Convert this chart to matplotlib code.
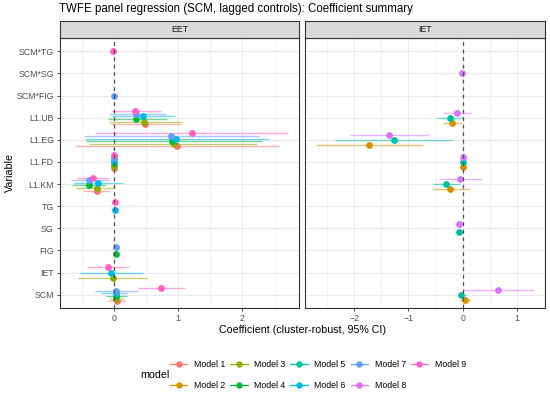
import matplotlib
matplotlib.use("Agg")
import matplotlib.pyplot as plt
from matplotlib.lines import Line2D
from matplotlib.ticker import MultipleLocator
import numpy as np

plt.rcParams['font.family'] = ['Liberation Sans', 'DejaVu Sans']

# ---- data -------------------------------------------------------------
# variable order, bottom -> top
variables = ["SCM", "IET", "FIG", "SG", "TG", "L1.KM", "L1.FD", "L1.EG",
             "L1.UB", "SCM*FIG", "SCM*SG", "SCM*TG"]
panels = ["EET", "IET"]
model_names = [f"Model {i}" for i in range(1, 10)]
model_panel = ["EET", "IET", "EET", "EET", "IET", "EET", "EET", "IET", "EET"]
model_colors = ["#F8766D", "#D39200", "#93AA00", "#00BA38", "#00C19F",
                "#00B9E3", "#619CFF", "#DB72FB", "#FF61C3"]

m1_terms = ["L1.UB", "L1.EG", "L1.FD", "L1.KM", "SCM"]
m1_est = [0.49, 0.98, 0.00, -0.27, 0.04]
m1_lo = [-0.04, -0.61, -0.01, -0.48, -0.09]
m1_hi = [1.05, 2.57, 0.01, -0.06, 0.17]

m2_terms = ["L1.UB", "L1.EG", "L1.FD", "L1.KM", "SCM"]
m2_est = [-0.19, -1.73, 0.01, -0.23, 0.04]
m2_lo = [-0.37, -2.71, 0.00, -0.56, -0.07]
m2_hi = [-0.01, -0.73, 0.02, 0.13, 0.15]

m3_terms = ["L1.UB", "L1.EG", "L1.FD", "L1.KM", "IET", "SCM"]
m3_est = [0.47, 0.93, 0.00, -0.27, -0.02, 0.035]
m3_lo = [-0.08, -0.39, -0.01, -0.59, -0.56, -0.08]
m3_hi = [1.06, 2.23, 0.01, 0.01, 0.52, 0.16]

m4_terms = ["L1.UB", "L1.EG", "L1.FD", "L1.KM", "FIG", "SCM"]
m4_est = [0.34, 0.90, 0.00, -0.39, 0.035, 0.035]
m4_lo = [-0.10, -0.43, -0.01, -0.66, 0.02, -0.12]
m4_hi = [0.82, 2.30, 0.01, -0.12, 0.05, 0.20]

m5_terms = ["L1.UB", "L1.EG", "L1.FD", "L1.KM", "SG", "SCM"]
m5_est = [-0.24, -1.27, 0.01, -0.31, -0.06, -0.03]
m5_lo = [-0.48, -2.35, 0.00, -0.54, -0.07, -0.09]
m5_hi = [0.01, -0.18, 0.02, -0.04, -0.05, 0.07]

m6_terms = ["L1.UB", "L1.EG", "L1.FD", "L1.KM", "TG", "IET", "SCM"]
m6_est = [0.45, 0.97, 0.00, -0.25, 0.01, -0.04, 0.035]
m6_lo = [-0.03, -0.45, -0.01, -0.62, 0.00, -0.53, -0.20]
m6_hi = [0.95, 2.41, 0.01, 0.14, 0.02, 0.45, 0.20]

m7_terms = ["SCM*FIG", "L1.UB", "L1.EG", "L1.FD", "L1.KM", "FIG", "SCM"]
m7_est = [0.00, 0.34, 0.89, 0.00, -0.39, 0.035, 0.035]
m7_lo = [-0.01, -0.07, -0.46, -0.01, -0.67, 0.02, -0.30]
m7_hi = [0.01, 0.81, 2.25, 0.01, -0.08, 0.05, 0.37]

m8_terms = ["SCM*SG", "L1.UB", "L1.EG", "L1.FD", "L1.KM", "SG", "SCM"]
m8_est = [-0.01, -0.10, -1.36, 0.01, -0.05, -0.06, 0.66]
m8_lo = [-0.02, -0.37, -2.08, 0.00, -0.44, -0.07, 0.01]
m8_hi = [0.00, 0.17, -0.63, 0.02, 0.36, -0.05, 1.32]

m9_terms = ["SCM*TG", "L1.UB", "L1.EG", "L1.FD", "L1.KM", "TG", "IET", "SCM"]
m9_est = [-0.01, 0.33, 1.21, 0.00, -0.32, 0.02, -0.10, 0.73]
m9_lo = [-0.02, -0.04, -0.30, -0.01, -0.57, 0.01, -0.42, 0.37]
m9_hi = [0.00, 0.73, 2.71, 0.01, -0.07, 0.03, 0.23, 1.10]

models = [
    (m1_terms, m1_est, m1_lo, m1_hi),
    (m2_terms, m2_est, m2_lo, m2_hi),
    (m3_terms, m3_est, m3_lo, m3_hi),
    (m4_terms, m4_est, m4_lo, m4_hi),
    (m5_terms, m5_est, m5_lo, m5_hi),
    (m6_terms, m6_est, m6_lo, m6_hi),
    (m7_terms, m7_est, m7_lo, m7_hi),
    (m8_terms, m8_est, m8_lo, m8_hi),
    (m9_terms, m9_est, m9_lo, m9_hi),
]

panel_ticks = {"EET": [0, 1, 2], "IET": [-2, -1, 0, 1]}

# ---- layout -----------------------------------------------------------
W, H = 550, 393
fig = plt.figure(figsize=(W / 100, H / 100), dpi=100)

def fx(px):
    return px / W

def fy(py):
    return 1 - py / H

panel_x = {"EET": (60, 299), "IET": (305, 545)}
ptop, pbot, stop = 38, 308, 21

dodge_w = 0.7
tick_fs = 6.3
grey20 = "#333333"

axes = {}
for p in panels:
    x0, x1 = panel_x[p]
    ax = fig.add_axes([fx(x0), fy(pbot), fx(x1) - fx(x0), fy(ptop) - fy(pbot)])
    axes[p] = ax
    # strip
    sax = fig.add_axes([fx(x0), fy(ptop), fx(x1) - fx(x0), fy(stop) - fy(ptop)])
    sax.set_facecolor("#D9D9D9")
    sax.set_xticks([]); sax.set_yticks([])
    for s in sax.spines.values():
        s.set_color(grey20); s.set_linewidth(0.8)
    sax.text(0.5, 0.5, p, ha="center", va="center", fontsize=tick_fs,
             color="#1A1A1A", transform=sax.transAxes)

for p in panels:
    ax = axes[p]
    idxs = [i for i in range(9) if model_panel[i] == p]
    # which models present per variable (for dodging)
    present = {v: [i for i in idxs if v in models[i][0]] for v in variables}
    all_lo, all_hi = [], []
    for i in idxs:
        terms, est, lo, hi = models[i]
        ys = []
        for t in terms:
            grp = present[t]
            n = len(grp)
            k = grp.index(i)
            ys.append(variables.index(t) + 1 + dodge_w * ((k + 0.5) / n - 0.5))
        ax.hlines(ys, lo, hi, color=model_colors[i], lw=1.0, alpha=0.55, zorder=3)
        ax.scatter(est, ys, s=24, color=model_colors[i], zorder=4, linewidths=0)
        all_lo += list(lo); all_hi += list(hi)
    lo_, hi_ = min(all_lo), max(all_hi)
    pad = 0.05 * (hi_ - lo_)
    ax.set_xlim(lo_ - pad, hi_ + pad)
    ax.set_ylim(0.4, len(variables) + 0.6)
    ax.axvline(0, color="#4D4D4D", lw=0.9, ls=(0, (3, 3)), zorder=5)
    ax.set_xticks(panel_ticks[p])
    ax.xaxis.set_minor_locator(MultipleLocator(0.5))
    ax.set_yticks(range(1, len(variables) + 1))
    ax.grid(True, which="major", color="#EBEBEB", lw=0.8, zorder=0)
    ax.grid(True, which="minor", axis="x", color="#EBEBEB", lw=0.4, zorder=0)
    ax.set_axisbelow(True)
    for s in ax.spines.values():
        s.set_color(grey20); s.set_linewidth(0.8)
    ax.tick_params(which="major", length=2.5, width=0.6, color=grey20,
                   labelsize=tick_fs, labelcolor="#4D4D4D", pad=2)
    ax.tick_params(which="minor", length=0)
    if p == "EET":
        ax.set_yticklabels(variables)
    else:
        ax.set_yticklabels([])
        ax.tick_params(axis="y", length=0)

# titles
fig.text(fx(59), fy(9), "TWFE panel regression (SCM, lagged controls): Coefficient summary",
         ha="left", va="center", fontsize=8.3, color="black")
fig.text(fx(302.5), fy(330), "Coefficient (cluster-robust, 95% CI)",
         ha="center", va="center", fontsize=7.7, color="black")
fig.text(fx(10), fy(173), "Variable", rotation=90, ha="center", va="center",
         fontsize=7.7, color="black")

# legend
handles = [Line2D([0], [0], color=c, lw=0.9, marker="o", markersize=4.6,
                  markeredgewidth=0) for c in model_colors]
fig.text(fx(140), fy(375), "model", ha="left", va="center", fontsize=7.7, color="black")
fig.legend(handles, model_names, ncol=5, loc="center",
           bbox_to_anchor=(fx(318), fy(375)), frameon=False,
           fontsize=tick_fs, handlelength=2.0, handletextpad=0.75,
           columnspacing=0.55, labelspacing=1.3, borderpad=0.2)

fig.savefig("out.png", dpi=100)
